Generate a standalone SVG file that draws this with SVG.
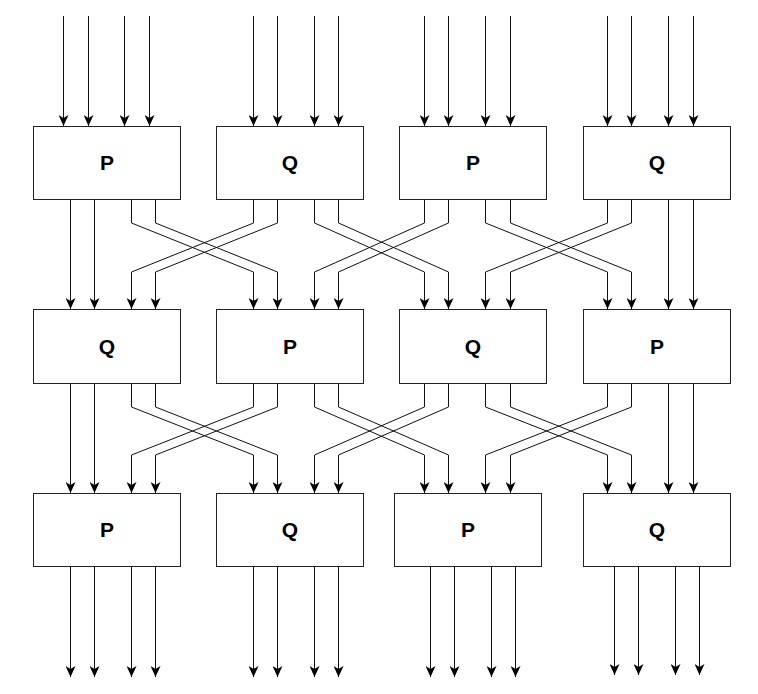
<svg xmlns="http://www.w3.org/2000/svg" width="758" height="694" viewBox="0 0 758 694">
<style>
.box{fill:#fff;stroke:#222;stroke-width:1}
.lbl{font-family:"Liberation Sans",Arial,sans-serif;font-weight:bold;font-size:21px;fill:#000;text-anchor:middle}
.c{fill:none;stroke:#111;stroke-width:1;marker-end:url(#arr)}
</style>
<defs>
<marker id="arr" markerUnits="userSpaceOnUse" viewBox="0 0 11 10" refX="11" refY="5" markerWidth="11" markerHeight="10" orient="auto">
<path d="M0,0 L11,5 L0,10 L3,5 Z" fill="#000"/>
</marker>
</defs>
<rect width="758" height="694" fill="#fff"/>
<g id="connectors">
<path class="c" d="M63.5,16 V126"/><path class="c" d="M88.5,16 V126"/><path class="c" d="M124.5,16 V126"/><path class="c" d="M149.5,16 V126"/>
<path class="c" d="M253.5,16 V126"/><path class="c" d="M277.5,16 V126"/><path class="c" d="M314.5,16 V126"/><path class="c" d="M338.5,16 V126"/>
<path class="c" d="M424.5,16 V126"/><path class="c" d="M448.5,16 V126"/><path class="c" d="M485.5,16 V126"/><path class="c" d="M510.5,16 V126"/>
<path class="c" d="M607.5,16 V126"/><path class="c" d="M631.5,16 V126"/><path class="c" d="M668.5,16 V126"/><path class="c" d="M693.5,16 V126"/>
<path class="c" d="M70.5,200 V309"/><path class="c" d="M94.5,200 V309"/>
<path class="c" d="M131.5,200 V223 L253.5,272 V309"/><path class="c" d="M155.5,200 V223 L277.5,272 V309"/>
<path class="c" d="M253.5,200 V223 L131.5,272 V309"/><path class="c" d="M277.5,200 V223 L155.5,272 V309"/>
<path class="c" d="M314.5,200 V223 L424.5,272 V309"/><path class="c" d="M338.5,200 V223 L448.5,272 V309"/>
<path class="c" d="M424.5,200 V223 L314.5,272 V309"/><path class="c" d="M448.5,200 V223 L338.5,272 V309"/>
<path class="c" d="M485.5,200 V223 L607.5,272 V309"/><path class="c" d="M510.5,200 V223 L631.5,272 V309"/>
<path class="c" d="M607.5,200 V223 L485.5,272 V309"/><path class="c" d="M631.5,200 V223 L510.5,272 V309"/>
<path class="c" d="M668.5,200 V309"/><path class="c" d="M693.5,200 V309"/>
<path class="c" d="M70.5,384 V493"/><path class="c" d="M94.5,384 V493"/>
<path class="c" d="M131.5,384 V407 L253.5,455 V493"/><path class="c" d="M155.5,384 V407 L277.5,455 V493"/>
<path class="c" d="M253.5,384 V407 L131.5,455 V493"/><path class="c" d="M277.5,384 V407 L155.5,455 V493"/>
<path class="c" d="M314.5,384 V407 L424.5,455 V493"/><path class="c" d="M338.5,384 V407 L448.5,455 V493"/>
<path class="c" d="M424.5,384 V407 L314.5,455 V493"/><path class="c" d="M448.5,384 V407 L338.5,455 V493"/>
<path class="c" d="M485.5,384 V407 L607.5,455 V493"/><path class="c" d="M510.5,384 V407 L631.5,455 V493"/>
<path class="c" d="M607.5,384 V407 L485.5,455 V493"/><path class="c" d="M631.5,384 V407 L510.5,455 V493"/>
<path class="c" d="M668.5,384 V493"/><path class="c" d="M693.5,384 V493"/>
<path class="c" d="M70.5,567 V677"/><path class="c" d="M94.5,567 V677"/><path class="c" d="M131.5,567 V677"/><path class="c" d="M155.5,567 V677"/>
<path class="c" d="M253.5,567 V677"/><path class="c" d="M277.5,567 V677"/><path class="c" d="M314.5,567 V677"/><path class="c" d="M338.5,567 V677"/>
<path class="c" d="M430.5,567 V677"/><path class="c" d="M454.5,567 V677"/><path class="c" d="M491.5,567 V677"/><path class="c" d="M515.5,567 V677"/>
<path class="c" d="M614.5,567 V675"/><path class="c" d="M638.5,567 V675"/><path class="c" d="M675.5,567 V675"/><path class="c" d="M699.5,567 V675"/>
</g>
<g id="r1a"><rect class="box" x="33.5" y="126.5" width="147" height="73"/><text class="lbl" x="107" y="170">P</text></g>
<g id="r1b"><rect class="box" x="216.5" y="126.5" width="147" height="73"/><text class="lbl" x="290" y="170">Q</text></g>
<g id="r1c"><rect class="box" x="399.5" y="126.5" width="147" height="73"/><text class="lbl" x="473" y="170">P</text></g>
<g id="r1d"><rect class="box" x="583.5" y="126.5" width="147" height="73"/><text class="lbl" x="657" y="170">Q</text></g>
<g id="r2a"><rect class="box" x="33.5" y="309.5" width="147" height="74"/><text class="lbl" x="107" y="354">Q</text></g>
<g id="r2b"><rect class="box" x="216.5" y="309.5" width="147" height="74"/><text class="lbl" x="290" y="354">P</text></g>
<g id="r2c"><rect class="box" x="399.5" y="309.5" width="147" height="74"/><text class="lbl" x="473" y="354">Q</text></g>
<g id="r2d"><rect class="box" x="583.5" y="309.5" width="147" height="74"/><text class="lbl" x="657" y="354">P</text></g>
<g id="r3a"><rect class="box" x="33.5" y="493.5" width="147" height="73"/><text class="lbl" x="107" y="537">P</text></g>
<g id="r3b"><rect class="box" x="216.5" y="493.5" width="147" height="73"/><text class="lbl" x="290" y="537">Q</text></g>
<g id="r3c"><rect class="box" x="394.5" y="493.5" width="147" height="73"/><text class="lbl" x="468" y="537">P</text></g>
<g id="r3d"><rect class="box" x="583.5" y="493.5" width="147" height="73"/><text class="lbl" x="657" y="537">Q</text></g>
</svg>
